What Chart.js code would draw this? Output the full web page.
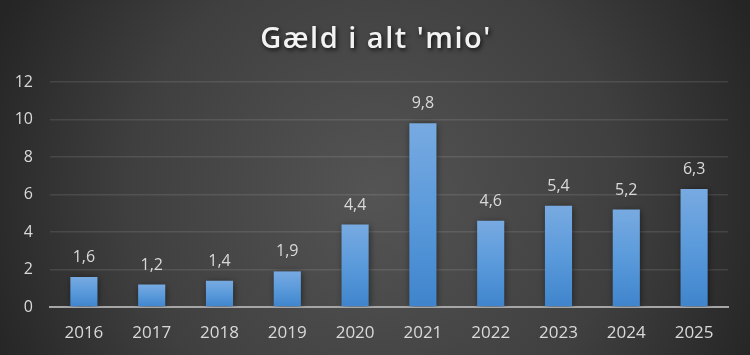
<!DOCTYPE html>
<html>
<head>
<meta charset="utf-8">
<script src="https://cdn.jsdelivr.net/npm/chart.js@4.4.0/dist/chart.umd.min.js"></script>
<style>
  html, body { margin: 0; padding: 0; background: #333; }
  #wrap { width: 750px; height: 355px; position: relative; }
</style>
</head>
<body>
<div id="wrap"><canvas id="c" width="750" height="355"></canvas></div>
<script>
const titleText = "Gæld i alt 'mio'";
const categories = ["2016", "2017", "2018", "2019", "2020", "2021", "2022", "2023", "2024", "2025"];
const debtValues = [1.6, 1.2, 1.4, 1.9, 4.4, 9.8, 4.6, 5.4, 5.2, 6.3];
const yTicks = [0, 2, 4, 6, 8, 10, 12];

const FONT = "'Open Sans', 'DejaVu Sans', sans-serif";

const bgPlugin = {
  id: 'bg',
  beforeDraw(chart) {
    const ctx = chart.ctx;
    const w = chart.width, h = chart.height;
    ctx.save();
    const g = ctx.createRadialGradient(w / 2, h * 0.55, 0, w / 2, h * 0.55, w * 0.55);
    g.addColorStop(0, '#545454');
    g.addColorStop(0.6, '#3f3f3f');
    g.addColorStop(1, '#252525');
    ctx.fillStyle = g;
    ctx.fillRect(0, 0, w, h);
    ctx.restore();
  }
};

const titlePlugin = {
  id: 'customTitle',
  afterDraw(chart) {
    const ctx = chart.ctx;
    ctx.save();
    ctx.font = "600 29px " + FONT;
    ctx.fillStyle = '#f2f2f2';
    ctx.textAlign = 'center';
    ctx.textBaseline = 'alphabetic';
    try { ctx.letterSpacing = '1.5px'; } catch (e) {}
    ctx.shadowColor = 'rgba(0,0,0,0.75)';
    ctx.shadowBlur = 4;
    ctx.shadowOffsetX = 1.5;
    ctx.shadowOffsetY = 2;
    ctx.fillText(titleText, chart.width / 2 + 1, 48);
    ctx.restore();
  }
};

const shadowPlugin = {
  id: 'barShadow',
  beforeDatasetsDraw(chart) {
    const ctx = chart.ctx;
    ctx.save();
    ctx.shadowColor = 'rgba(0,0,0,0.55)';
    ctx.shadowBlur = 7;
    ctx.shadowOffsetX = 1;
    ctx.shadowOffsetY = 1;
  },
  afterDatasetsDraw(chart) {
    chart.ctx.restore();
  }
};

const labelPlugin = {
  id: 'valueLabels',
  afterDatasetsDraw(chart) {
    const ctx = chart.ctx;
    const meta = chart.getDatasetMeta(0);
    ctx.save();
    ctx.font = "16px " + FONT;
    ctx.fillStyle = '#d9d9d9';
    ctx.textAlign = 'center';
    ctx.textBaseline = 'alphabetic';
    meta.data.forEach((bar, i) => {
      const v = chart.data.datasets[0].data[i];
      ctx.fillText(String(v).replace('.', ','), bar.x, bar.y - 15);
    });
    ctx.restore();
  }
};

function barGradient(context) {
  const chart = context.chart;
  const area = chart.chartArea;
  if (!area || !chart.scales.y) return '#5b9bd5';
  const v = context.raw;
  const top = chart.scales.y.getPixelForValue(v);
  const base = chart.scales.y.getPixelForValue(0);
  if (!isFinite(top) || !isFinite(base) || top === base) return '#5b9bd5';
  const g = chart.ctx.createLinearGradient(0, top, 0, base);
  g.addColorStop(0, '#78aae1');
  g.addColorStop(0.5, '#5a9adb');
  g.addColorStop(1, '#3f84cc');
  return g;
}

new Chart(document.getElementById('c'), {
  type: 'bar',
  data: {
    labels: categories,
    datasets: [{
      data: debtValues,
      backgroundColor: barGradient,
      borderWidth: 0,
      categoryPercentage: 1.0,
      barPercentage: 0.4
    }]
  },
  options: {
    responsive: false,
    animation: false,
    devicePixelRatio: 1,
    layout: { padding: { top: 82, right: 22, left: 0, bottom: 0 } },
    plugins: {
      legend: { display: false },
      title: { display: false },
      tooltip: { enabled: false }
    },
    scales: {
      x: {
        grid: { display: false },
        border: { display: true, color: '#a6a6a6', width: 2 },
        ticks: { color: '#d9d9d9', font: { family: FONT, size: 17 }, padding: 8, maxRotation: 0 },
        afterFit(scale) { scale.height = 48; }
      },
      y: {
        min: 0,
        max: 12,
        afterBuildTicks(scale) { scale.ticks = yTicks.map(v => ({ value: v })); },
        grid: { color: 'rgba(255,255,255,0.1)', lineWidth: 1.5, drawTicks: false },
        border: { display: false },
        ticks: { color: '#d9d9d9', font: { family: FONT, size: 16 }, padding: 17 },
        afterFit(scale) { scale.width = 50; }
      }
    }
  },
  plugins: [bgPlugin, shadowPlugin, labelPlugin, titlePlugin]
});
</script>
</body>
</html>
